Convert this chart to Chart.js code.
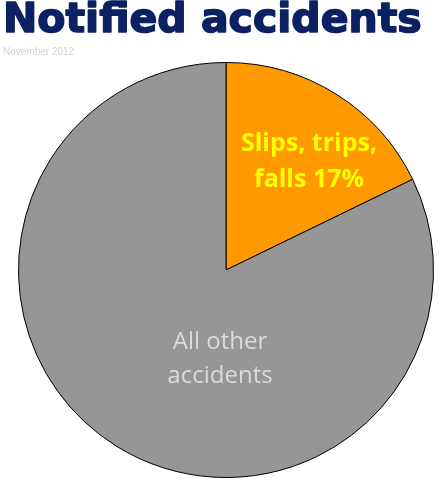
<!DOCTYPE html>
<html>
<head>
<meta charset="utf-8">
<script src="https://cdn.jsdelivr.net/npm/chart.js@4.4.1/dist/chart.umd.min.js"></script>
<style>
  html, body { margin: 0; padding: 0; background: #fff; }
  #wrap { width: 441px; height: 481px; position: relative; }
</style>
</head>
<body>
<div id="wrap"><canvas id="pie"></canvas></div>
<script>
const categories = ['Slips, trips, falls', 'All other accidents'];
const shares = [17.8, 82.2];
const sliceColors = ['#ff9900', '#969696'];
const sliceLabels = [['Slips, trips,', 'falls 17%'], ['All other', 'accidents']];

// title, date and the text inside the slices
const textPlugin = {
    id: 'pieText',
    afterDraw(chart) {
        const ctx = chart.ctx;
        ctx.save();
        ctx.textBaseline = 'alphabetic';
        ctx.textAlign = 'left';
        ctx.fillStyle = '#0b2163';
        ctx.strokeStyle = '#0b2163';
        ctx.lineWidth = 1.6;
        ctx.lineJoin = 'round';
        ctx.font = 'bold 41px "DejaVu Sans"';
        ctx.fillText('Notified accidents', 3, 32);
        ctx.strokeText('Notified accidents', 3, 32);
        ctx.fillStyle = '#d2d2d2';
        ctx.font = '10px "Liberation Sans"';
        ctx.fillText('November 2012', 3, 55);

        ctx.textAlign = 'center';
        ctx.fillStyle = '#ffff00';
        ctx.font = 'bold 25px "Open Sans"';
        ctx.fillText(sliceLabels[0][0], 309, 151);
        ctx.fillText(sliceLabels[0][1], 309, 187);

        ctx.fillStyle = '#dadada';
        ctx.font = '24px "Open Sans"';
        ctx.fillText(sliceLabels[1][0], 220, 349);
        ctx.fillText(sliceLabels[1][1], 220, 383);
        ctx.restore();
    }
};

new Chart(document.getElementById('pie'), {
    type: 'pie',
    data: {
        labels: categories,
        datasets: [{
            data: shares,
            backgroundColor: sliceColors,
            borderColor: '#000000',
            borderWidth: 1
        }]
    },
    options: {
        responsive: true,
        maintainAspectRatio: false,
        animation: false,
        layout: { padding: { left: 18, right: 7, top: 62, bottom: 3 } },
        plugins: {
            legend: { display: false },
            tooltip: { enabled: false }
        }
    },
    plugins: [textPlugin]
});
</script>
</body>
</html>
